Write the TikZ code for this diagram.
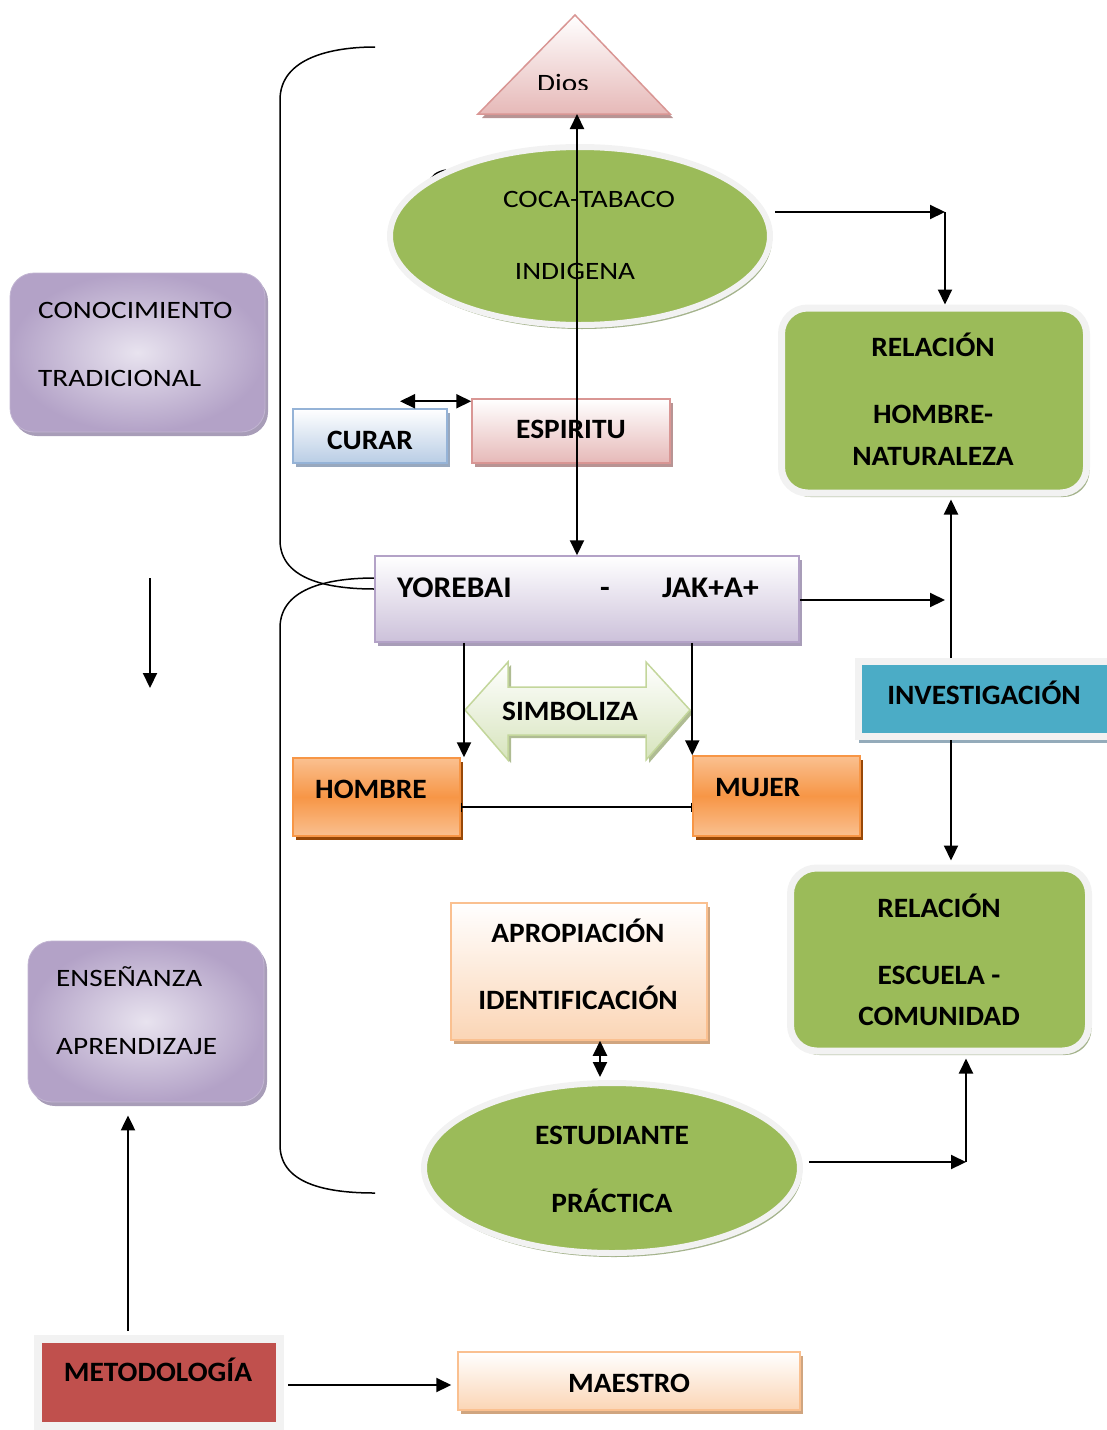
\documentclass[tikz,border=0pt]{standalone}
\usepackage{fontspec}
\setmainfont{Carlito}
\newfontfamily\fontR{Carlito}[FakeStretch=1.17]
\newfontfamily\fontB{Carlito}[FakeStretch=1.05]
\usetikzlibrary{shapes.geometric,shadows,arrows.meta,calc}
\definecolor{grn}{HTML}{9BBB59}
\definecolor{pinkB}{HTML}{D99694}
\definecolor{pinkF}{HTML}{E6B9B8}
\definecolor{blueB}{HTML}{95B3D7}
\definecolor{blueF}{HTML}{B9CDE5}
\definecolor{purB}{HTML}{B3A2C7}
\definecolor{purF}{HTML}{CCC1DA}
\definecolor{purL}{HTML}{E8E3EF}
\definecolor{orgB}{HTML}{F79646}
\definecolor{orgL}{HTML}{FAC090}
\definecolor{orgD}{HTML}{984807}
\definecolor{peachB}{HTML}{FAC090}
\definecolor{peachF}{HTML}{FBD5B5}
\definecolor{tealF}{HTML}{4BACC6}
\definecolor{redM}{HTML}{C0504D}
\definecolor{lgF}{HTML}{D7E4BD}
\definecolor{lgB}{HTML}{C3D69B}
\definecolor{edgeW}{HTML}{F2F2F2}
\definecolor{shGrn}{HTML}{A4B38C}
\definecolor{shBlue}{HTML}{98A8BE}
\definecolor{shPink}{HTML}{B89494}
\definecolor{shPur}{HTML}{A89DB8}
\definecolor{shTan}{HTML}{D0A57F}
\definecolor{shTeal}{HTML}{94ABBA}
\definecolor{shRed}{HTML}{B8A0A0}
\begin{document}
\begin{tikzpicture}[x=1pt,y=-1pt,
  arr/.style={line width=2.1pt,-{Triangle[length=15pt,width=14pt]}},
  dbl/.style={line width=2.1pt,{Triangle[length=15pt,width=14pt]}-{Triangle[length=15pt,width=14pt]}},
  barln/.style={line width=1.9pt,{Bar[width=9pt,line width=1pt]}-{Bar[width=9pt,line width=1pt]}},
  brk/.style={line width=1.5pt},
  tr/.style={font=\fontR\fontsize{25}{30}\selectfont, inner sep=0pt, text height=16pt, text depth=0pt},
  tb/.style={font=\fontB\fontsize{28}{33}\selectfont\bfseries, inner sep=0pt, text height=18pt, text depth=0pt},
  tbig/.style={font=\fontB\fontsize{30}{35}\selectfont\bfseries, inner sep=0pt, text height=19pt, text depth=0pt},
  shd/.style={general shadow={fill=#1, shadow xshift=3pt, shadow yshift=-4pt}},
  rbox/.style={rectangle, inner sep=0pt},
  gbox/.style={rectangle, rounded corners=26pt, inner sep=0pt, fill=grn, draw=edgeW, line width=7pt, shd=shGrn},
  gell/.style={ellipse, inner sep=0pt, fill=grn, draw=edgeW, line width=6pt, general shadow={fill=shGrn, shadow xshift=2pt, shadow yshift=-4pt}},
  pbox/.style={rectangle, rounded corners=24pt, inner sep=0pt, inner color=purL, outer color=purB, draw=purB!80, line width=0.8pt, shd=shPur},
]
\useasboundingbox (0,0) rectangle (1106,1430);

% ---------- brackets ----------
\draw[brk] (375,47) to[out=180,in=90] (280,100) -- (280,540) to[out=-90,in=180] (375,589);
\draw[brk] (375,578) to[out=180,in=90] (280,628) -- (280,1145) to[out=-90,in=180] (375,1193);
\draw[brk] (429,184) to[out=80,in=190] (446,170);

% ---------- Dios triangle ----------
\fill[shPink] (482,118) -- (578,19) -- (673,118) -- cycle;
\shadedraw[top color=white, bottom color=pinkF, draw=pinkB, line width=1.5pt] (478,114) -- (575,15) -- (670,114) -- cycle;
\coordinate (diosbase) at (577,114);
\begin{scope}
  \clip (450,0) rectangle (700,89);
  \node[tr] (dios) at (563,83) {Dios};
\end{scope}

% ---------- shapes ----------
\node[gell, minimum width=380pt, minimum height=178pt] (coca) at (580,236) {};
\node[tr] (tcoca1) at (589,199) {COCA-TABACO};
\node[tr] (tcoca2) at (575,271) {INDIGENA};

\node[pbox, minimum width=255pt, minimum height=159pt] (cono) at (137.5,352.5) {};
\node[tr, anchor=west] (tcono1) at (38,310) {CONOCIMIENTO};
\node[tr, anchor=west] (tcono2) at (38,378) {TRADICIONAL};

\node[rbox, minimum width=154pt, minimum height=54pt, top color=white, bottom color=blueF, draw=blueB, line width=1.5pt, shd=shBlue] (cur) at (370,436) {};
\node[tb] (tcur) at (370,440) {CURAR};

\node[rbox, minimum width=198pt, minimum height=64pt, top color=white, bottom color=pinkF, draw=pinkB, line width=1.5pt, shd=shPink] (esp) at (571,431) {};
\node[tb] (tesp) at (571,429) {ESPIRITU};

\node[rbox, minimum width=424pt, minimum height=86pt, top color=white, bottom color=purF, draw=purB, line width=1.5pt, shd=shPur] (yor) at (587,599) {};
\node[tbig, anchor=west] (tyor1) at (397,588) {YOREBAI};
\node[tbig] (tyor2) at (605,588) {-};
\node[tbig, anchor=west] (tyor3) at (662,588) {JAK+A+};

\node[gbox, minimum width=305pt, minimum height=185pt] (rhn) at (934,400.5) {};
\node[tb] (trhn1) at (933,347) {RELACIÓN};
\node[tb] (trhn2) at (933,414) {HOMBRE-};
\node[tb] (trhn3) at (933,456) {NATURALEZA};

% simboliza double arrow
\shadedraw[top color=white, bottom color=lgF, draw=lgB, line width=1.5pt, general shadow={fill=lgB!70!gray, shadow xshift=3pt, shadow yshift=-3pt}]
  (465,710) -- (508,662) -- (508,687) -- (646,687) -- (646,662) -- (690,710) -- (646,760) -- (646,735) -- (508,735) -- (508,760) -- cycle;
\node[tb] (simb) at (570,711) {SIMBOLIZA};

\node[rbox, minimum width=167pt, minimum height=78pt, top color=orgL, bottom color=orgL, middle color=orgB, draw=orgB, line width=1.5pt, shd=orgD] (hom) at (376.5,797) {};
\node[tb, anchor=west] (thom) at (315,789) {HOMBRE};

\node[rbox, minimum width=167pt, minimum height=80pt, top color=orgL, bottom color=orgL, middle color=orgB, draw=orgB, line width=1.5pt, shd=orgD] (muj) at (776.5,796) {};
\node[tb, anchor=west] (tmuj) at (715,787) {MUJER};

\node[rbox, minimum width=253pt, minimum height=75pt, fill=tealF, draw=edgeW, line width=7pt, general shadow={fill=shTeal, shadow xshift=0pt, shadow yshift=-6pt}] (inv) at (985,699) {};
\node[tb] (tinv) at (984,695) {INVESTIGACIÓN};

\node[gbox, minimum width=298pt, minimum height=183pt] (rec) at (939.5,959.5) {};
\node[tb] (trec1) at (939,908) {RELACIÓN};
\node[tb] (trec2) at (939,975) {ESCUELA -};
\node[tb] (trec3) at (939,1016) {COMUNIDAD};

\node[rbox, minimum width=256pt, minimum height=137pt, top color=white, bottom color=peachF, draw=peachB, line width=1.5pt, shd=shTan] (apr) at (579,971.5) {};
\node[tb] (tapr1) at (578,933) {APROPIACIÓN};
\node[tb] (tapr2) at (578,1000) {IDENTIFICACIÓN};

\node[pbox, minimum width=236pt, minimum height=161pt] (ens) at (146,1021.5) {};
\node[tr, anchor=west] (tens1) at (56,978) {ENSEÑANZA};
\node[tr, anchor=west] (tens2) at (56,1046) {APRENDIZAJE};

\node[gell, minimum width=376pt, minimum height=170pt] (est) at (612,1168) {};
\node[tb] (test1) at (612,1135) {ESTUDIANTE};
\node[tb] (test2) at (612,1203) {PRÁCTICA};

\node[rbox, minimum width=242pt, minimum height=87pt, fill=redM, draw=edgeW, line width=8pt, general shadow={fill=shRed, shadow xshift=2pt, shadow yshift=0pt}] (met) at (159,1382.5) {};
\node[tb] (tmet) at (158,1372) {METODOLOGÍA};

\node[rbox, minimum width=342pt, minimum height=58pt, top color=white, bottom color=peachF, draw=peachB, line width=1.5pt, shd=shTan] (mae) at (629,1381) {};
\node[tb] (tmae) at (629,1383) {MAESTRO};

% ---------- connectors ----------
\coordinate (cA) at (945,212);
\coordinate (cB) at (945,600);
\coordinate (cC) at (966,1162);
\coordinate (vx) at (951,0);
\coordinate (yM) at (0,1385);
\coordinate (hm) at (0,807);
\coordinate (ld1) at (150,578);
\coordinate (ld2) at (150,688);

\draw[arr] ([xshift=2pt]coca.east |- cA) -- (cA);
\draw[arr] (cA) -- (rhn.north -| cA);
\draw[dbl] (yor.north -| diosbase) -- (diosbase);
\draw[dbl] ([xshift=30pt,yshift=7pt]cur.north) -- ([yshift=7pt]cur.north -| esp.west);
\draw[arr] (yor.east |- cB) -- (cB);
\draw[arr] (yor.south -| 464,0) -- (hom.north -| 464,0);
\draw[arr] (yor.south -| muj.north west) -- (muj.north west);
\draw[barln] (hom.east |- hm) -- (muj.west |- hm);
\draw[arr] (inv.north -| vx) -- ([yshift=-3pt]rhn.south -| vx);
\draw[arr] (inv.south -| vx) -- ([yshift=4pt]rec.north -| vx);
\draw[arr] (ld1) -- (ld2);
\draw[dbl] (apr.south -| 600,0) -- ([yshift=3pt]est.north -| 600,0);
\draw[arr] ([xshift=6pt]est.east |- cC) -- (cC);
\draw[arr] (cC) -- ([yshift=-4pt]rec.south -| cC);
\draw[arr] ([yshift=4pt]met.north -| 128,0) -- ([yshift=-13pt]ens.south -| 128,0);
\draw[arr] ([xshift=4pt]met.east |- yM) -- ([xshift=-6pt]mae.west |- yM);
\end{tikzpicture}
\end{document}
